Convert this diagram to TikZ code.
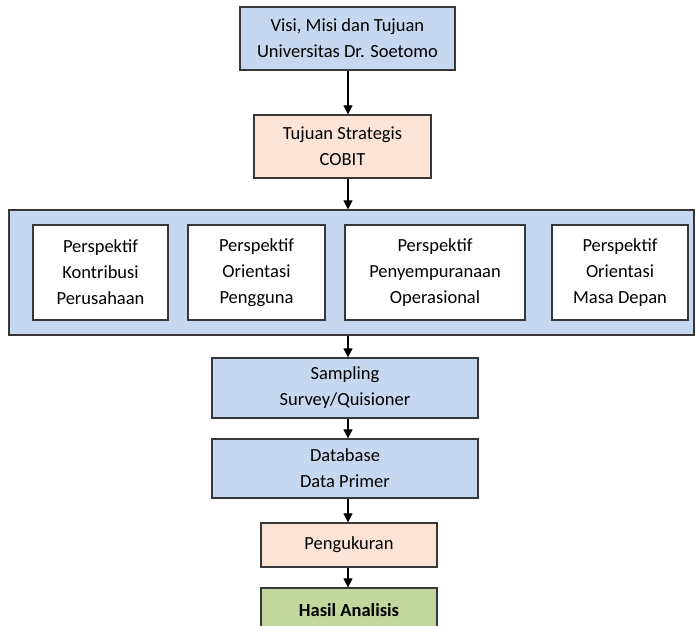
\documentclass[tikz,border=0pt]{standalone}
\usepackage{fontspec}
\setmainfont{Carlito}
\usetikzlibrary{arrows.meta}
\definecolor{boxblue}{RGB}{198,216,239}
\definecolor{boxpeach}{RGB}{251,228,213}
\definecolor{boxgreen}{RGB}{195,214,155}
\definecolor{boxline}{RGB}{55,55,55}
\tikzset{
	box/.style={draw=boxline,line width=1.2pt,align=center,inner sep=0pt,
		font=\fontsize{18.5}{26}\selectfont},
	flow/.style={-{Triangle[length=9pt,width=9pt]},line width=1.1pt,black}
}
\begin{document}
\begin{tikzpicture}[x=1pt,y=-1pt]
			\useasboundingbox (0,0) rectangle (696,625);
			\clip (0,0) rectangle (696,625);
			\coordinate (ax) at (348,0);
			\node[box,fill=boxblue,minimum width=215pt,minimum height=63pt] (visi) at (347.5,38.5) {Visi, Misi dan Tujuan\\Universitas Dr. Soetomo};
			\node[box,fill=boxpeach,minimum width=177pt,minimum height=63pt] (tujuan) at (342.5,146.5) {Tujuan Strategis\\COBIT};
			\node[box,fill=boxblue,minimum width=685pt,minimum height=125pt] (perspektif) at (351.5,272.5) {};
			\foreach \n/\cx/\w/\t in {kontribusi/100.5/135/{Perspektif\\Kontribusi\\Perusahaan},
				pengguna/256.5/137/{Perspektif\\Orientasi\\Pengguna},
				operasional/435/180/{Perspektif\\Penyempuranaan\\Operasional},
				masadepan/620/136/{Perspektif\\Orientasi\\Masa Depan}}
			\node[box,fill=white,minimum width=\w pt,minimum height=95pt] (\n) at (\cx,272.5) {\t};
			\node[box,fill=boxblue,minimum width=266pt,minimum height=60pt] (sampling) at (345,388) {Sampling\\Survey/Quisioner};
			\node[box,fill=boxblue,minimum width=266pt,minimum height=59pt] (database) at (345,468.5) {Database\\Data Primer};
			\node[box,fill=boxpeach,minimum width=176pt,minimum height=44pt] (pengukuran) at (349,545) {Pengukuran};
			\node[box,fill=boxgreen,minimum width=176pt,minimum height=44pt,font=\fontsize{18.5}{26}\selectfont\bfseries] (hasil) at (349,610) {Hasil Analisis};
			% panah antar kotak
			\draw[flow] (ax |- visi.south)--(ax |- tujuan.north);
			\draw[flow] (ax |- tujuan.south)--(ax |- perspektif.north);
			\draw[flow] (ax |- perspektif.south)--(ax |- sampling.north);
			\draw[flow] (ax |- sampling.south)--(ax |- database.north);
			\draw[flow] (ax |- database.south)--(ax |- pengukuran.north);
			\draw[flow] (ax |- pengukuran.south)--(ax |- hasil.north);
		\end{tikzpicture}
\end{document}
